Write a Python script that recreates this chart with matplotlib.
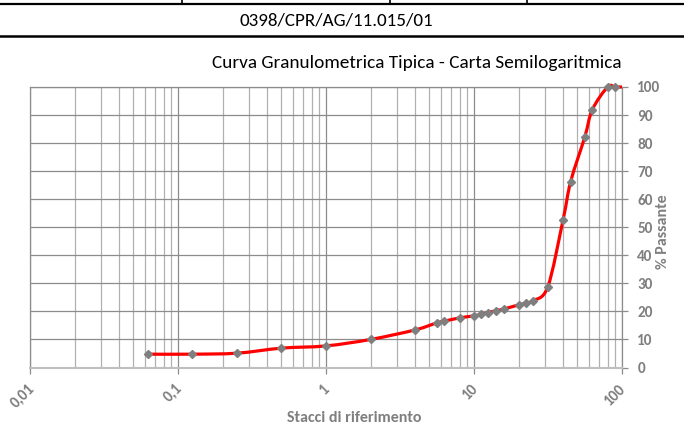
import numpy as np
import matplotlib
matplotlib.use('Agg')
import matplotlib.pyplot as plt
import matplotlib.transforms as mtransforms
from matplotlib.path import Path
from matplotlib.patches import PathPatch
from matplotlib.ticker import FixedLocator, LogLocator, NullFormatter, FixedFormatter
from matplotlib.lines import Line2D

# ---- data ----
sieve_mm = [0.063, 0.125, 0.25, 0.5, 1, 2, 4, 5.6, 6.3, 8, 10, 11.2, 12.5, 14,
            16, 20, 22.4, 25, 31.5, 40, 45, 56, 63, 80, 90]
passing = [4.75, 4.75, 5.1, 6.9, 7.7, 10.0, 13.4, 15.9, 16.5, 17.7, 18.4, 18.9,
           19.6, 20.2, 20.9, 22.3, 22.9, 23.8, 28.7, 52.7, 66.3, 82.1, 91.9,
           100, 100]
line_end_mm = [100]
line_end_pass = [100]
x_ticks = [0.01, 0.1, 1, 10, 100]
x_tick_labels = ['0,01', '0,1', '1', '10', '100']
y_ticks = [0, 10, 20, 30, 40, 50, 60, 70, 80, 90, 100]

header_code = '0398/CPR/AG/11.015/01'
title = 'Curva Granulometrica Tipica - Carta Semilogaritmica'
xlabel = 'Stacci di riferimento'
ylabel = '% Passante'

FONT = ['Carlito', 'Lato', 'DejaVu Sans']
plt.rcParams['font.family'] = FONT
GRAY = '#7f7f7f'

W, H = 684, 429
fig = plt.figure(figsize=(W / 100, H / 100), dpi=100)

def fx(px):
    return px / W

def fy(py):
    return 1 - py / H

fig.add_artist(Line2D([0, 1], [fy(3.5), fy(3.5)], color='black', lw=1.6))
fig.add_artist(Line2D([0, 1], [fy(36), fy(36)], color='black', lw=1.8))
for vx in [182, 390, 527]:
    fig.add_artist(Line2D([fx(vx), fx(vx)], [1, fy(3.5)], color='black', lw=1.2))
fig.text(fx(336), fy(20), header_code, ha='center', va='center', fontsize=13.7,
         color='black')
fig.text(fx(622), fy(63), title, ha='right', va='center', fontsize=13.9,
         color='black')

left, right, top, bottom = 30, 622, 87, 367.5
ax = fig.add_axes([fx(left), fy(bottom), (right - left) / W, (bottom - top) / H])
ax.set_xscale('log')
ax.set_xlim(0.01, 100)
ax.set_ylim(0, 100)

# smoothed line (Catmull-Rom style Bezier, like spreadsheet smoothing)
xs = list(sieve_mm) + list(line_end_mm)
ys = list(passing) + list(line_end_pass)
u = np.log10(np.array(xs, dtype=float))
v = np.array(ys, dtype=float)
n = len(u)
verts = [(xs[0], ys[0])]
codes = [Path.MOVETO]
for i in range(n - 1):
    i0 = max(i - 1, 0)
    i3 = min(i + 2, n - 1)
    c1u = u[i] + (u[i + 1] - u[i0]) / 6
    c1v = v[i] + (v[i + 1] - v[i0]) / 6
    c2u = u[i + 1] - (u[i3] - u[i]) / 6
    c2v = v[i + 1] - (v[i3] - v[i]) / 6
    verts += [(10 ** c1u, c1v), (10 ** c2u, c2v), (xs[i + 1], ys[i + 1])]
    codes += [Path.CURVE4] * 3
patch = PathPatch(Path(verts, codes), facecolor='none', edgecolor='#ff0000',
                  lw=2.3, zorder=3, clip_on=False, capstyle='butt')
ax.add_patch(patch)
ax.plot(sieve_mm, passing, linestyle='none', marker='D', markersize=3.6,
        color='#7f7f7f', zorder=4, clip_on=False)

# grid
ax.xaxis.set_major_locator(FixedLocator(x_ticks))
ax.xaxis.set_major_formatter(FixedFormatter(x_tick_labels))
ax.xaxis.set_minor_locator(LogLocator(base=10, subs=range(2, 10), numticks=20))
ax.xaxis.set_minor_formatter(NullFormatter())
ax.yaxis.set_major_locator(FixedLocator(y_ticks))
ax.grid(True, which='major', axis='both', color='#8c8c8c', lw=0.9)
ax.grid(True, which='minor', axis='x', color='#b0b0b0', lw=0.9)
ax.set_axisbelow(True)

for s in ['left', 'right', 'top']:
    ax.spines[s].set_color('#8c8c8c')
    ax.spines[s].set_linewidth(0.9)
ax.spines['bottom'].set_color('#bfbfbf')
ax.spines['bottom'].set_linewidth(1.5)

ax.yaxis.tick_right()
ax.tick_params(axis='y', which='major', direction='out', length=4, width=0.9,
               color='#8c8c8c', labelcolor=GRAY, labelsize=11, pad=7)
ax.tick_params(axis='x', which='major', direction='out', length=4, width=0.9,
               color='#8c8c8c', labelcolor=GRAY, labelsize=11, pad=6)
ax.tick_params(axis='x', which='minor', length=0)
shift = mtransforms.ScaledTranslation(7 / 100, 0, fig.dpi_scale_trans)
for lbl in ax.get_yticklabels():
    lbl.set_fontweight('bold')
for lbl in ax.get_xticklabels():
    lbl.set_fontweight('bold')
    lbl.set_rotation(45)
    lbl.set_ha('right')
    lbl.set_va('top')
    lbl.set_transform(lbl.get_transform() + shift)

fig.text(fx(354), fy(418), xlabel, ha='center', va='center', fontsize=11.5,
         color=GRAY, fontweight='bold')
fig.text(fx(663), fy(232), ylabel, ha='center', va='center', fontsize=11.5,
         color=GRAY, fontweight='bold', rotation=90)

fig.savefig('out.png', dpi=100)
